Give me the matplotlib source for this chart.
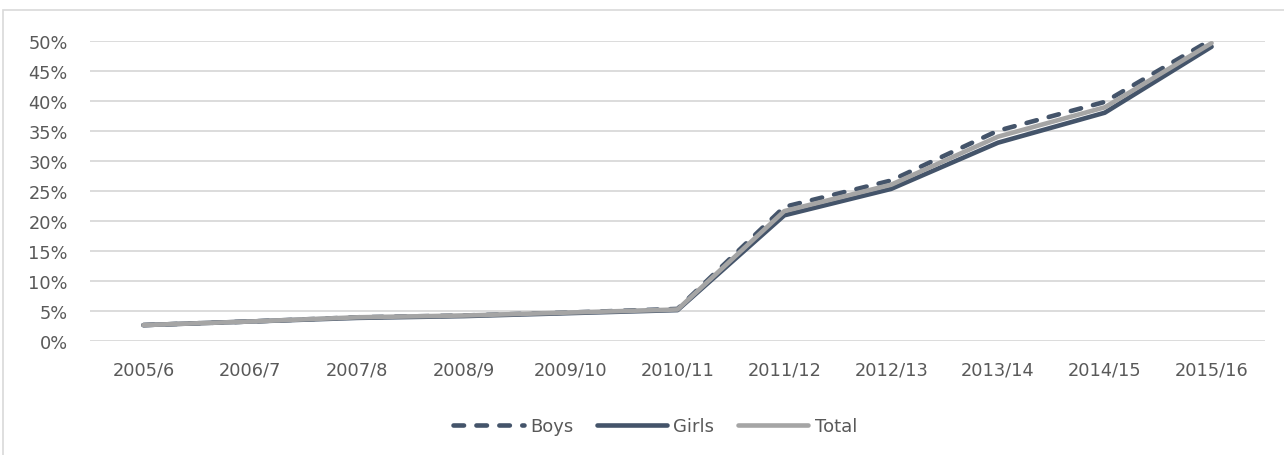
import matplotlib.pyplot as plt
from matplotlib.patches import Rectangle
from matplotlib.ticker import FuncFormatter

years = ['2005/6', '2006/7', '2007/8', '2008/9', '2009/10', '2010/11',
         '2011/12', '2012/13', '2013/14', '2014/15', '2015/16']
boys = [2.6, 3.2, 3.9, 4.2, 4.7, 5.3, 22.3, 26.7, 35.0, 39.8, 50.2]
girls = [2.6, 3.2, 3.8, 4.1, 4.6, 5.1, 20.9, 25.3, 33.0, 38.0, 49.0]
total = [2.6, 3.2, 3.9, 4.2, 4.7, 5.2, 21.6, 26.0, 34.0, 38.9, 49.6]

W, H = 1284, 456
fig = plt.figure(figsize=(W / 100, H / 100), dpi=100)
plt.rcParams['font.family'] = ['DejaVu Sans']

# light frame round the chart area (runs off the right and bottom edges)
fig.patches.append(Rectangle((3 / W, -0.05), 1.1, 1.05 - 11 / H, transform=fig.transFigure,
                             fill=False, edgecolor='#D9D9D9', linewidth=1.2))

ax = fig.add_axes([90 / W, (H - 341.7) / H, 1175 / W, 300 / H])

dark = '#44546A'
grey = '#A5A5A5'
x = range(len(years))
ax.plot(x, boys, color=dark, linewidth=3.3, linestyle=(0, (2.3, 2.7)),
        dash_capstyle='round', solid_capstyle='round', label='Boys')
ax.plot(x, girls, color=dark, linewidth=3.3, solid_capstyle='round', label='Girls')
ax.plot(x, total, color=grey, linewidth=3.3, solid_capstyle='round', label='Total')

ax.set_xlim(-0.5, len(years) - 0.5)
ax.set_ylim(0, 50)
ax.set_yticks(range(0, 51, 5))
ax.yaxis.set_major_formatter(FuncFormatter(lambda v, p: f'{v:.0f}%'))
ax.set_xticks(list(x))
ax.set_xticklabels(years)
ax.grid(axis='y', color='#D9D9D9', linewidth=1.3)
ax.set_axisbelow(True)
for s in ax.spines.values():
    s.set_visible(False)
ax.tick_params(length=0, labelsize=12.8, colors='#595959', pad=14)
ax.tick_params(axis='y', pad=16)

fig.legend(loc='center', bbox_to_anchor=(655 / W, (H - 427) / H), ncol=3, frameon=False,
           fontsize=13, labelcolor='#595959', handlelength=3.9, handletextpad=0.35,
           columnspacing=1.3)

fig.savefig('out.png', dpi=100)
